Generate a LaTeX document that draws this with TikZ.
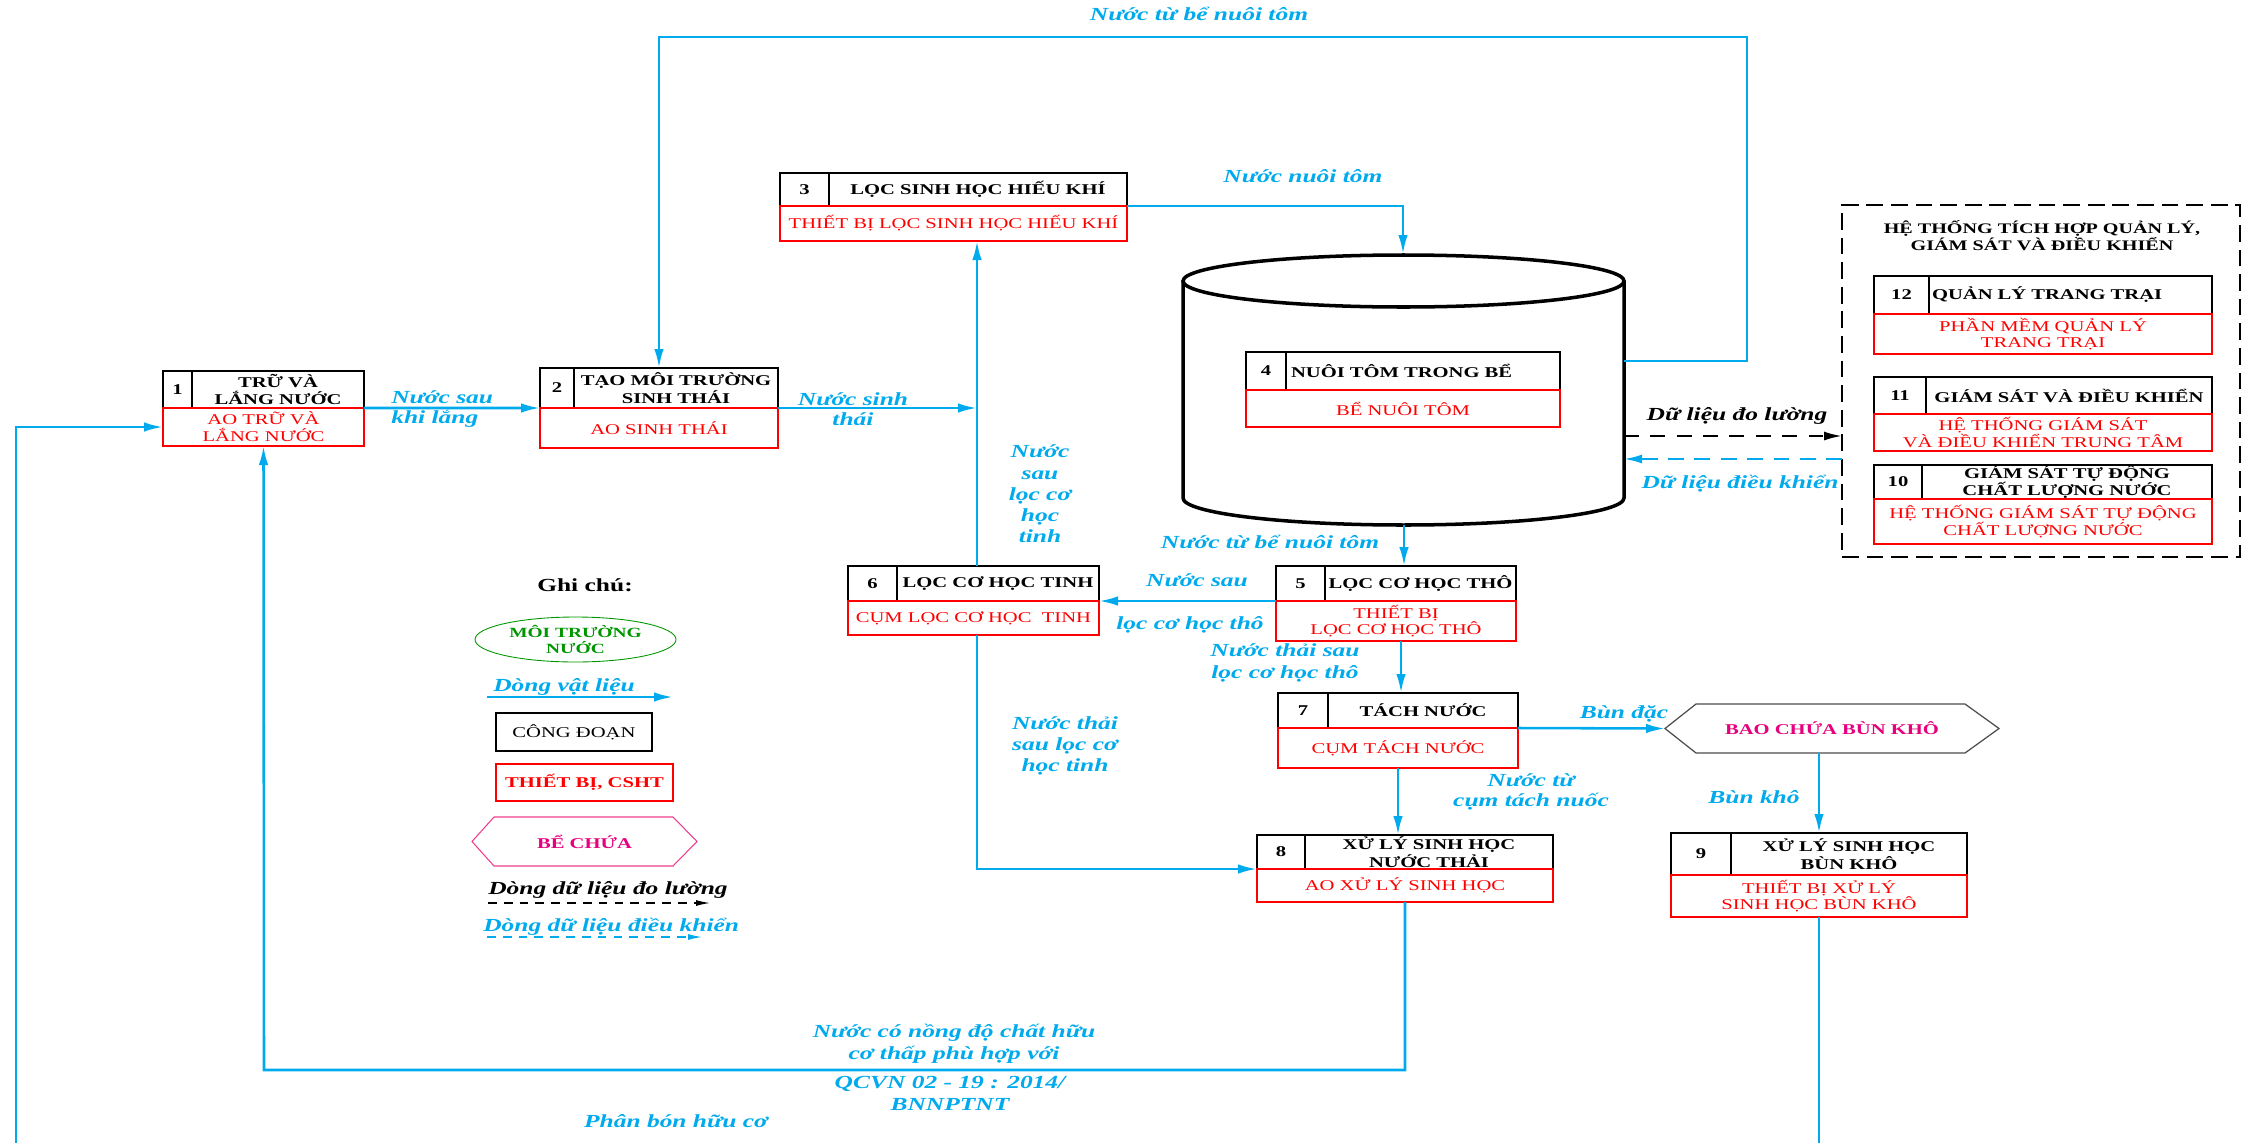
\documentclass[tikz,border=0pt]{standalone}
\usepackage{fontspec}
\setmainfont{Liberation Serif}[FakeStretch=1.38]
\usetikzlibrary{arrows.meta,shapes.geometric}

\definecolor{flowblue}{RGB}{0,170,236}
\definecolor{mudpink}{RGB}{230,0,126}
\definecolor{hexpink}{RGB}{240,60,140}
\definecolor{legendgreen}{RGB}{0,150,0}

\newlength{\pxu}
\setlength{\pxu}{0.02cm}

\tikzset{
  numcell/.style={draw=black, line width=0.85pt, anchor=north west, inner sep=0pt, outer sep=0pt,
    font=\bfseries\fontsize{8.5}{10}\selectfont},
  headcell/.style={numcell, align=center},
  bodycell/.style={draw=red, text=red, line width=0.85pt, anchor=north west, inner sep=0pt, outer sep=0pt,
    align=center, font=\fontsize{8.5}{9.5}\selectfont},
  flowline/.style={draw=flowblue, line width=1.45pt},
  flow/.style={flowline, -{Latex[length=0.38cm,width=0.19cm]}},
  flowlabel/.style={text=flowblue, inner sep=0pt, align=center,
    font=\bfseries\itshape\fontsize{10.5}{11.5}\selectfont},
  tank/.style={draw=black, line width=2pt},
  panelbox/.style={draw=black, line width=1.3pt, dash pattern=on 9.5pt off 4.5pt,
    anchor=north west, inner sep=0pt, outer sep=0pt},
  meas/.style={draw=black, line width=1.2pt, dash pattern=on 8.5pt off 6.5pt,
    -{Latex[length=0.36cm,width=0.18cm]}},
  ctrl/.style={draw=flowblue, line width=1.2pt, dash pattern=on 9pt off 6pt,
    -{Latex[length=0.36cm,width=0.18cm]}},
  legendtext/.style={inner sep=0pt, anchor=base west,
    font=\bfseries\itshape\fontsize{10.5}{11.5}\selectfont},
  % header cells that start at the left
  stage4/.style={text width=264\pxu, align=left, inner xsep=5\pxu},
  stage12/.style={text width=277\pxu, align=left, inner xsep=3\pxu}
}

% stage box: name, top-left, number width, total width, head height, body height, number, stage, equipment
\newcommand{\stagebox}[9]{%
  \node[numcell, minimum width=#3\pxu, minimum height=#5\pxu] (n#1) at (#2) {#7};
  \node[headcell, minimum width=(#4-#3)*\pxu, minimum height=#5\pxu, stage#1/.try] (h#1) at (n#1.north east) {#8};
  \node[bodycell, minimum width=#4\pxu, minimum height=#6\pxu] (b#1) at (n#1.south west) {#9};
}

\begin{document}
\begin{tikzpicture}[x=0.02cm, y=-0.02cm]
\useasboundingbox (0,0) rectangle (2244,1143);

% shrimp tank
\draw[tank] (1183,281) -- (1183,498) arc[start angle=180, end angle=360, x radius=220.5\pxu, y radius=27\pxu] -- (1624,281);
\draw[tank] (1403.5,281) ellipse [x radius=220.5\pxu, y radius=26\pxu];

% stages
\stagebox{1}{163,371}{29}{201}{37}{38}{1}{TRỮ VÀ\\LẮNG NƯỚC}{AO TRỮ VÀ\\LẮNG NƯỚC}
\stagebox{2}{540,368}{34}{238}{40}{40}{2}{TẠO MÔI TRƯỜNG\\SINH THÁI}{AO SINH THÁI}
\stagebox{3}{780,173}{49}{347}{33}{35}{3}{LỌC SINH HỌC HIẾU KHÍ}{THIẾT BỊ LỌC SINH HỌC HIẾU KHÍ}
\stagebox{4}{1246,352}{40}{314}{38}{37}{4}{NUÔI TÔM TRONG BỂ}{BỂ NUÔI TÔM}
\stagebox{5}{1276,566}{49}{240}{35}{40}{5}{LỌC CƠ HỌC THÔ}{THIẾT BỊ\\LỌC CƠ HỌC THÔ}
\stagebox{6}{848,566}{49}{251}{35}{34}{6}{LỌC CƠ HỌC TINH}{CỤM LỌC CƠ HỌC \ TINH}
\stagebox{7}{1278,693}{50}{240}{35}{40}{7}{TÁCH NƯỚC}{CỤM TÁCH NƯỚC}
\stagebox{8}{1257,835}{48}{296}{34}{33}{8}{XỬ LÝ SINH HỌC\\NƯỚC THẢI}{AO XỬ LÝ SINH HỌC}
\stagebox{9}{1671,833}{60}{296}{42}{42}{9}{XỬ LÝ SINH HỌC\\BÙN KHÔ}{THIẾT BỊ XỬ LÝ\\SINH HỌC BÙN KHÔ}

% management panel
\node[panelbox, minimum width=398\pxu, minimum height=352\pxu] (panel) at (1842,205) {};
\node[inner sep=0pt, align=center, font=\bfseries\fontsize{8.3}{9.7}\selectfont] (ptitle) at (2042,236)
  {HỆ THỐNG TÍCH HỢP QUẢN LÝ,\\GIÁM SÁT VÀ ĐIỀU KHIỂN};
\stagebox{12}{1874,276}{55}{338}{38}{40}{12}{QUẢN LÝ TRANG TRẠI}{PHẦN MỀM QUẢN LÝ\\TRANG TRẠI}
\stagebox{11}{1874,377}{52}{338}{37}{37}{11}{GIÁM SÁT VÀ ĐIỀU KHIỂN}{HỆ THỐNG GIÁM SÁT\\VÀ ĐIỀU KHIỂN TRUNG TÂM}
\stagebox{10}{1874,465}{48}{338}{34}{45}{10}{GIÁM SÁT TỰ ĐỘNG\\CHẤT LƯỢNG NƯỚC}{HỆ THỐNG GIÁM SÁT TỰ ĐỘNG\\CHẤT LƯỢNG NƯỚC}

% sludge bag
\node[inner sep=0pt, outer sep=0pt, text=mudpink, font=\bfseries\fontsize{8.5}{10}\selectfont,
  minimum width=334\pxu, minimum height=49\pxu] (hexbag) at (1832,728.5) {BAO CHỨA BÙN KHÔ};
\draw[black!70, line width=0.7pt] (hexbag.west) -- ([xshift=31\pxu]hexbag.north west)
  -- ([xshift=-34\pxu]hexbag.north east) -- (hexbag.east)
  -- ([xshift=-34\pxu]hexbag.south east) -- ([xshift=31\pxu]hexbag.south west) -- cycle;

% connectors
\coordinate (inlet) at (16,1143);
\coordinate (riser) at (977,566);
\coordinate (tanktop) at (1403,254);
\coordinate (tankout) at (1624,361);
\coordinate (loopR) at (1747,37);
\coordinate (h2top) at (659,368);
\coordinate (tankbot) at (1404,525);
\coordinate (drop7) at ([xshift=5\pxu]b5.south);
\coordinate (retline) at (264,1070);
\coordinate (sludgeout) at (1820,1143);
\coordinate (tankm) at (1624,436);
\coordinate (tankc) at (1624,459);

\draw[flow] (inlet) |- (b1.west);
\draw[flow] (b1.north east) -- (b2.north west);
\draw[flow] (b2.north east) -- (riser |- b2.north east);
\draw[flow] (riser) -- (riser |- b3.south);
\draw[flow] (b3.north east) -| (tanktop);
\draw[flow] (tankout) -| (loopR) -| (h2top);
\draw[flow] (tankbot) -- (tankbot |- n5.north);
\draw[flow] (b5.north west) -- (b5.north west -| b6.east);
\draw[flow] (drop7) -- (drop7 |- n7.north);
\draw[flow] (b7.north east) -- (hexbag.west);
\draw[flow] (b7.south) -- (b7.south |- n8.north);
\draw[flow] (b9.south |- hexbag.south) -- (b9.south |- n9.north);
\draw[flowline] (b9.south) -- (b9.south |- sludgeout);
\draw[flow] (riser |- b6.south) |- (b8.north west);
\draw[flow] (b8.south) |- (retline) -- (b1.south);
\draw[meas] (tankm) -- (tankm -| panel.west);
\draw[ctrl] (tankc -| panel.west) -- (tankc);

% flow labels
\node[flowlabel, anchor=west, align=left] (l12) at (391,409) {Nước sau\\khi lắng};
\node[flowlabel] (l2j) at (853,409) {Nước sinh\\thái};
\node[flowlabel, anchor=base] (l34) at (1303,182) {Nước nuôi tôm};
\node[flowlabel, font=\bfseries\itshape\fontsize{10.5}{12.1}\selectfont] (l63) at (1040,494) {Nước\\sau\\lọc cơ\\học\\tinh};
\node[flowlabel, anchor=base] (l45) at (1270,548) {Nước từ bể nuôi tôm};
\node[flowlabel, anchor=base] (l56a) at (1197,586) {Nước sau};
\node[flowlabel, anchor=base] (l56b) at (1190,629) {lọc cơ học thô};
\node[flowlabel, font=\bfseries\itshape\fontsize{10.5}{12.5}\selectfont] (l57) at (1285,663) {Nước thải sau\\lọc cơ học thô};
\node[flowlabel, font=\bfseries\itshape\fontsize{10.5}{12}\selectfont] (l68) at (1065,746) {Nước thải\\sau lọc cơ\\học tinh};
\node[flowlabel, anchor=base] (l7h) at (1624,718) {Bùn đặc};
\node[flowlabel] (l78) at (1531,792) {Nước từ\\cụm tách nuốc};
\node[flowlabel, anchor=base] (lh9) at (1754,803) {Bùn khô};
\node[flowlabel, anchor=base, text=black] (lmeas) at (1737,420) {Dữ liệu đo lường};
\node[flowlabel, anchor=base] (lctrl) at (1740,488) {Dữ liệu điều khiển};
\node[flowlabel, anchor=base] (l42) at (1199,20) {Nước từ bể nuôi tôm};
\node[flowlabel, font=\bfseries\itshape\fontsize{10.5}{12.5}\selectfont] (l81a) at (954,1044) {Nước có nồng độ chất hữu\\cơ thấp phù hợp với};
\node[flowlabel, font=\bfseries\itshape\fontsize{10.5}{12.5}\selectfont] (l81b) at (950,1093) {QCVN 02 - 19 : 2014/\\BNNPTNT};
\node[flowlabel, anchor=base] (lfert) at (676,1127) {Phân bón hữu cơ};

% legend
\node[inner sep=0pt, anchor=base, font=\bfseries\fontsize{10.5}{12}\selectfont] (gtitle) at (585,591) {Ghi chú:};
\node[ellipse, draw=legendgreen, line width=0.5pt, text=legendgreen, inner sep=0pt, align=center,
  minimum width=201\pxu, minimum height=45\pxu, font=\bfseries\fontsize{8}{9.5}\selectfont] (gwater) at (575.5,639.5) {MÔI TRƯỜNG\\NƯỚC};
\node[legendtext, text=flowblue] (gflow) at (493,691) {Dòng vật liệu};
\coordinate (gflowa) at (487,697);
\coordinate (gflowb) at (673,697);
\draw[flow] (gflowa) -- (gflowb);
\node[draw=black, line width=0.6pt, inner sep=0pt, minimum width=156\pxu, minimum height=38\pxu,
  font=\fontsize{8.5}{10}\selectfont] (gstage) at (574,732) {CÔNG ĐOẠN};
\node[draw=red, text=red, line width=0.6pt, inner sep=0pt, minimum width=177\pxu, minimum height=37\pxu,
  font=\bfseries\fontsize{8.5}{10}\selectfont] (gequip) at (584.5,782.5) {THIẾT BỊ, CSHT};
\node[inner sep=0pt, outer sep=0pt, text=mudpink, font=\bfseries\fontsize{8.5}{10}\selectfont,
  minimum width=225\pxu, minimum height=49\pxu] (gtank) at (584.5,841.5) {BỂ CHỨA};
\draw[hexpink, line width=0.6pt] (gtank.west) -- ([xshift=22\pxu]gtank.north west)
  -- ([xshift=-24\pxu]gtank.north east) -- (gtank.east)
  -- ([xshift=-24\pxu]gtank.south east) -- ([xshift=22\pxu]gtank.south west) -- cycle;
\node[legendtext] (gmeas) at (488,894) {Dòng dữ liệu đo lường};
\coordinate (gmeasa) at (488,903);
\coordinate (gmeasb) at (710,903);
\draw[black, line width=0.7pt, dash pattern=on 5pt off 4pt, -{Latex[length=0.28cm,width=0.12cm]}] (gmeasa) -- (gmeasb);
\node[legendtext, text=flowblue] (gctrl) at (483,931) {Dòng dữ liệu điều khiển};
\coordinate (gctrla) at (487,937);
\coordinate (gctrlb) at (702,937);
\draw[flowblue, line width=0.7pt, dash pattern=on 5pt off 4pt, -{Latex[length=0.28cm,width=0.12cm]}] (gctrla) -- (gctrlb);

\end{tikzpicture}
\end{document}
